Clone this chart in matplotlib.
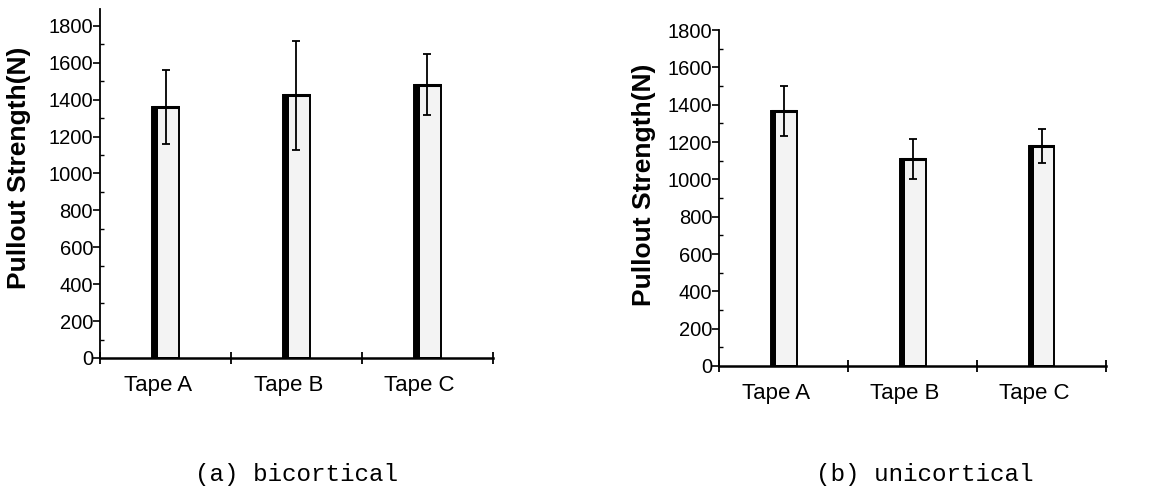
import numpy as np
import matplotlib
matplotlib.use("Agg")
import matplotlib.pyplot as plt
from matplotlib.ticker import MultipleLocator

# Pullout strength of the three tapes, mean and standard deviation (N)
tapes = ["Tape A", "Tape B", "Tape C"]
bicortical_mean = [1360, 1425, 1480]
bicortical_sd = [200, 295, 165]
unicortical_mean = [1365, 1108, 1180]
unicortical_sd = [135, 108, 90]
captions = ["(a) bicortical", "(b) unicortical"]

plt.rcParams["font.family"] = ["Liberation Sans", "DejaVu Sans"]

fig = plt.figure(figsize=(11.51, 4.97), dpi=100)
ax1 = fig.add_axes([0.0869, 0.2797, 0.3414, 0.7016])
ax2 = fig.add_axes([0.6249, 0.2636, 0.3360, 0.6760])

BAR_W = 0.2
SHADOW_W = 0.04


def draw_panel(ax, means, sds, ytop, label_xy):
    x = np.arange(len(means)) + 0.5
    # light stippled body with thin outline
    ax.bar(x, means, width=BAR_W, color="#f3f3f3", edgecolor="black",
           linewidth=1.4, zorder=2)
    # heavy dark strip on the left side of every bar
    ax.bar(x - BAR_W / 2, means, width=SHADOW_W, align="edge",
           color="black", linewidth=0, zorder=3)
    # thicker top edge
    ax.hlines(means, x - BAR_W / 2, x + BAR_W / 2, colors="black",
              linewidth=2.2, zorder=3)
    ax.errorbar(x, means, yerr=sds, fmt="none", ecolor="black",
                elinewidth=1.3, capsize=3, capthick=1.3, zorder=4)

    ax.set_xlim(0, 3)
    ax.set_ylim(0, ytop)
    ax.set_xticks([0, 1, 2, 3])
    ax.set_xticklabels([])
    ax.set_xticks(x - 0.06, minor=True)
    ax.set_xticklabels(tapes, minor=True, fontsize=16)
    ax.tick_params(axis="x", which="minor", length=0, pad=12)
    ax.tick_params(axis="x", which="major", direction="inout", length=9,
                   width=1.3)

    ax.set_yticks(np.arange(0, 1801, 200))
    ax.yaxis.set_minor_locator(MultipleLocator(100))
    ax.tick_params(axis="y", which="major", direction="out", length=5,
                   width=1.2, labelsize=14.5, pad=0)
    ax.tick_params(axis="y", which="minor", direction="in", length=3,
                   width=1.0)

    ax.spines["top"].set_visible(False)
    ax.spines["right"].set_visible(False)
    ax.spines["left"].set_linewidth(1.3)
    ax.spines["bottom"].set_linewidth(1.8)
    ax.set_ylabel("Pullout Strength(N)", fontsize=19, fontweight="bold")
    ax.yaxis.set_label_coords(*label_xy)


draw_panel(ax1, bicortical_mean, bicortical_sd, 1890, (-0.175, 0.545))
draw_panel(ax2, unicortical_mean, unicortical_sd, 1800, (-0.163, 0.54))

mono = ["Liberation Mono", "DejaVu Sans Mono"]
fig.text(0.258, 0.045, captions[0], ha="center", va="center",
         fontsize=17.5, family=mono)
fig.text(0.803, 0.045, captions[1], ha="center", va="center",
         fontsize=17.5, family=mono)

fig.savefig("out.png", dpi=100)
